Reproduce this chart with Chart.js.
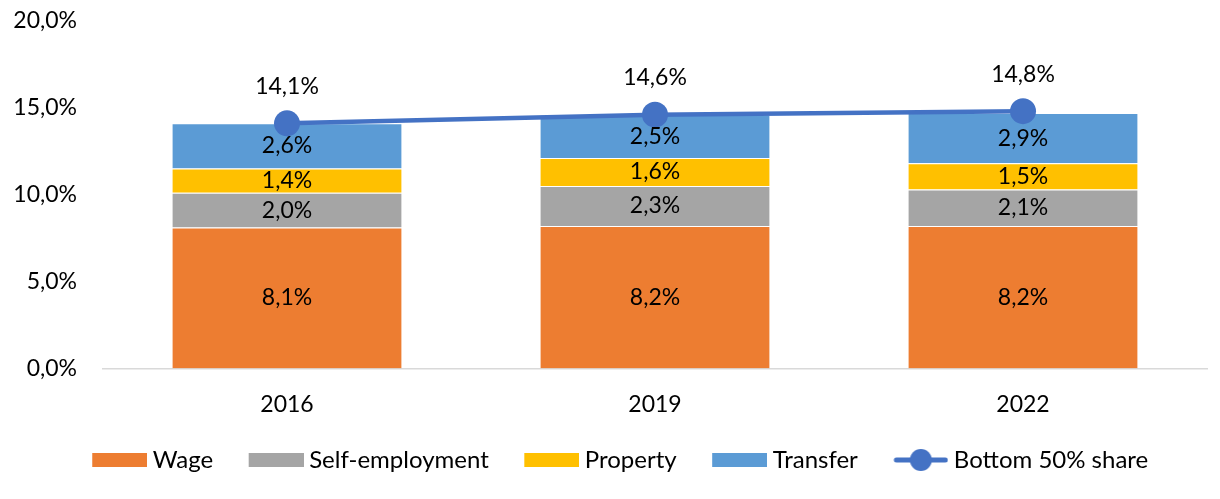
<!DOCTYPE html>
<html>
<head>
<meta charset="utf-8">
<script src="https://cdn.jsdelivr.net/npm/chart.js@4/dist/chart.umd.min.js"></script>
<style>
html,body{margin:0;padding:0;background:#fff;}
#wrap{width:1220px;height:499px;position:relative;}
</style>
</head>
<body>
<div id="wrap"><canvas id="c"></canvas></div>
<script>
const categories = ['2016', '2019', '2022'];
const wage = [8.1, 8.2, 8.2];
const selfEmployment = [2.0, 2.3, 2.1];
const property = [1.4, 1.6, 1.5];
const transfer = [2.6, 2.5, 2.9];
const bottom50 = [14.1, 14.6, 14.8];
const yTicks = [0, 5, 10, 15, 20];

const FONT = 'Lato, "Open Sans", sans-serif';
const FS = 23;
const LFS = 24;
const fmt = v => v.toFixed(1).replace('.', ',') + '%';

// legend swatch images (transparent left part adds spacing between items)
function boxImg(color) {
  const c = document.createElement('canvas');
  c.width = 81; c.height = 14;
  const g = c.getContext('2d');
  g.fillStyle = color; g.fillRect(26, 0, 55, 14);
  return c;
}
function lineImg(color) {
  const c = document.createElement('canvas');
  c.width = 81; c.height = 26;
  const g = c.getContext('2d');
  g.strokeStyle = color; g.lineWidth = 5; g.lineCap = 'round';
  g.beginPath(); g.moveTo(29, 13); g.lineTo(78, 13); g.stroke();
  g.fillStyle = color; g.beginPath(); g.arc(53.5, 13, 11, 0, Math.PI * 2); g.fill();
  return c;
}

const colors = ['#ED7D31', '#A5A5A5', '#FFC000', '#5B9BD5'];
const lineColor = '#4472C4';

const labelPlugin = {
  id: 'valueLabels',
  afterDatasetsDraw(chart) {
    const ctx = chart.ctx;
    ctx.save();
    ctx.font = FS + 'px ' + FONT;
    ctx.fillStyle = '#000000';
    ctx.textAlign = 'center';
    ctx.textBaseline = 'middle';
    chart.data.datasets.forEach((ds, i) => {
      const meta = chart.getDatasetMeta(i);
      meta.data.forEach((el, j) => {
        const v = ds.data[j];
        if (ds.type === 'line') {
          ctx.fillText(fmt(v), el.x, el.y - 37);
        } else {
          ctx.fillText(fmt(v), el.x, (el.y + el.base) / 2);
        }
      });
    });
    ctx.restore();
  }
};

const barDs = (label, data, color) => ({
  type: 'bar', label, data, backgroundColor: color,
  borderColor: '#ffffff', borderWidth: {top: 1, bottom: 0, left: 0, right: 0}, borderSkipped: false,
  stack: 'a', order: 1, barPercentage: 1, categoryPercentage: 0.623,
  legendImg: boxImg(color)
});

new Chart(document.getElementById('c'), {
  data: {
    labels: categories,
    datasets: [
      barDs('Wage', wage, colors[0]),
      barDs('Self-employment', selfEmployment, colors[1]),
      barDs('Property', property, colors[2]),
      barDs('Transfer', transfer, colors[3]),
      {
        type: 'line', label: 'Bottom 50% share', data: bottom50,
        borderColor: lineColor, backgroundColor: lineColor, borderWidth: 4.5,
        pointRadius: 13, pointHoverRadius: 13, pointBackgroundColor: lineColor, pointBorderWidth: 0,
        stack: 'b', order: 0, legendImg: lineImg(lineColor)
      }
    ]
  },
  options: {
    responsive: true, maintainAspectRatio: false, animation: false,
    layout: {padding: {left: 8, right: 7, top: 0, bottom: 17}},
    plugins: {
      tooltip: {enabled: false},
      legend: {
        position: 'bottom',
        labels: {
          usePointStyle: true, pointStyleWidth: 68, boxHeight: 14,
          padding: 16, color: '#000000',
          font: {family: FONT, size: LFS},
          generateLabels(chart) {
            return chart.data.datasets.map((ds, i) => ({
              text: ds.label, pointStyle: ds.legendImg, fillStyle: ds.backgroundColor,
              strokeStyle: ds.backgroundColor, lineWidth: 0, hidden: false, datasetIndex: i,
              fontColor: '#000000'
            }));
          }
        }
      }
    },
    scales: {
      x: {
        stacked: true,
        grid: {display: false},
        border: {display: true, color: '#D9D9D9', width: 1.5},
        ticks: {color: '#000000', font: {family: FONT, size: FS}, padding: 14}
      },
      y: {
        stacked: true, min: 0, max: 20,
        afterBuildTicks(axis) { axis.ticks = yTicks.map(v => ({value: v})); },
        afterFit(axis) { axis.width = 95; },
        grid: {display: false, tickLength: 19},
        border: {display: false},
        ticks: {color: '#000000', font: {family: FONT, size: FS}, padding: 7, callback: v => fmt(v)}
      }
    }
  },
  plugins: [labelPlugin]
});
</script>
</body>
</html>
